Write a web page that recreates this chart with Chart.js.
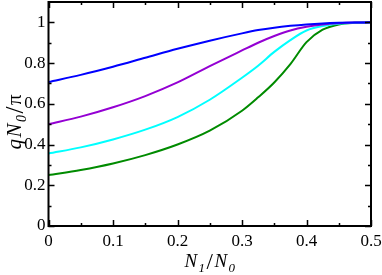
<!DOCTYPE html>
<html lang="en">
<head>
  <meta charset="UTF-8">
  <title>qN0/pi vs N1/N0</title>
  <script src="https://cdn.jsdelivr.net/npm/chart.js"></script>
  <style>
    body { margin: 0; background: #ffffff; }
    #wrap { width: 382px; height: 275px; }
  </style>
</head>
<body>
  <div id="wrap"><canvas id="qChart"></canvas></div>

  <script>
    // N1/N0 sample positions
    const ratio = [0, 0.05, 0.1, 0.15, 0.2, 0.25, 0.3, 0.325, 0.35, 0.375, 0.4, 0.425, 0.45, 0.475, 0.5];

    // qN0/pi
    const blueVals   = [0.707, 0.742, 0.782, 0.826, 0.870, 0.910, 0.946, 0.962, 0.974, 0.983, 0.990, 0.995, 0.998, 0.9995, 1];
    const violetVals = [0.500, 0.537, 0.583, 0.638, 0.705, 0.785, 0.862, 0.900, 0.933, 0.960, 0.978, 0.990, 0.996, 0.999, 1];
    const cyanVals   = [0.356, 0.386, 0.425, 0.473, 0.535, 0.620, 0.728, 0.787, 0.855, 0.913, 0.960, 0.982, 0.993, 0.998, 1];
    const greenVals  = [0.250, 0.275, 0.307, 0.348, 0.400, 0.468, 0.566, 0.632, 0.705, 0.795, 0.903, 0.964, 0.990, 0.998, 1];

    // tick marks
    const xMajor = [0, 0.1, 0.2, 0.3, 0.4, 0.5];
    const xMinor = [0.05, 0.15, 0.25, 0.35, 0.45];
    const yMajor = [0, 0.2, 0.4, 0.6, 0.8, 1];
    const yMinor = [0.1, 0.3, 0.5, 0.7, 0.9];

    const toPoints = vals => vals.map((v, i) => ({ x: ratio[i], y: v }));

    const serif = '"Liberation Serif", "Times New Roman", serif';

    // box with inward ticks on all four sides, plus axis titles
    const framePlugin = {
      id: 'frame',
      afterDraw(chart) {
        const { ctx, chartArea: a, scales: { x, y } } = chart;
        ctx.save();
        ctx.strokeStyle = '#000';
        ctx.lineWidth = 2;
        ctx.strokeRect(a.left, a.top, a.right - a.left, a.bottom - a.top);

        ctx.lineWidth = 1.5;
        ctx.beginPath();
        const tickX = (v, len) => {
          const px = Math.round(x.getPixelForValue(v)) + 0.5;
          ctx.moveTo(px, a.bottom); ctx.lineTo(px, a.bottom - len);
          ctx.moveTo(px, a.top); ctx.lineTo(px, a.top + len);
        };
        const tickY = (v, len) => {
          const py = Math.round(y.getPixelForValue(v)) + 0.5;
          ctx.moveTo(a.left, py); ctx.lineTo(a.left + len, py);
          ctx.moveTo(a.right, py); ctx.lineTo(a.right - len, py);
        };
        xMajor.forEach(v => tickX(v, 6));
        xMinor.forEach(v => tickX(v, 3));
        yMajor.forEach(v => tickY(v, 6));
        yMinor.forEach(v => tickY(v, 3));
        ctx.stroke();

        ctx.fillStyle = '#000';
        ctx.textBaseline = 'alphabetic';

        const drawParts = (parts, cx, base, gap) => {
          let w = 0;
          parts.forEach(p => { ctx.font = p.f; w += ctx.measureText(p.t).width + gap; });
          let px = cx - (w - gap) / 2;
          parts.forEach(p => {
            ctx.font = p.f;
            ctx.fillText(p.t, px, base + p.dy);
            px += ctx.measureText(p.t).width + gap;
          });
        };

        // x title: N1/N0
        const xParts = [
          { t: 'N', f: 'italic 19px ' + serif, dy: 0 },
          { t: '1', f: 'italic 13px ' + serif, dy: 5 },
          { t: '/', f: '23px ' + serif, dy: 2 },
          { t: 'N', f: 'italic 19px ' + serif, dy: 0 },
          { t: '0', f: 'italic 13px ' + serif, dy: 5 }
        ];
        drawParts(xParts, (a.left + a.right) / 2, 267, 1.5);

        // y title: qN0/pi, rotated
        const yParts = [
          { t: 'q', f: 'italic 21px ' + serif, dy: 0 },
          { t: 'N', f: 'italic 21px ' + serif, dy: 0 },
          { t: '0', f: 'italic 14px ' + serif, dy: 5 },
          { t: '/', f: '25px ' + serif, dy: 2 },
          { t: 'π', f: '21px ' + serif, dy: 0 }
        ];
        ctx.translate(21, 122);
        ctx.rotate(-Math.PI / 2);
        drawParts(yParts, 0, 0, 1.5);
        ctx.restore();
      }
    };

    const line = (vals, color) => ({
      data: toPoints(vals),
      borderColor: color,
      borderWidth: 2,
      pointRadius: 0,
      fill: false,
      cubicInterpolationMode: 'monotone'
    });

    new Chart(document.getElementById('qChart'), {
      type: 'line',
      data: {
        datasets: [
          line(blueVals, '#0000ff'),
          line(violetVals, '#9400d3'),
          line(cyanVals, '#00ffff'),
          line(greenVals, '#008b00')
        ]
      },
      options: {
        responsive: true,
        maintainAspectRatio: false,
        animation: false,
        layout: { padding: { left: 0, right: 11, top: 2, bottom: 0 } },
        plugins: { legend: { display: false }, tooltip: { enabled: false } },
        scales: {
          x: {
            type: 'linear',
            min: 0,
            max: 0.5,
            grid: { display: false, drawTicks: false },
            border: { display: false },
            afterFit: s => { s.height = 49; s.paddingLeft = 0; s.paddingRight = 0; },
            afterBuildTicks: s => { s.ticks = xMajor.map(v => ({ value: v })); },
            ticks: {
              color: '#000',
              padding: 5,
              maxRotation: 0,
              font: { family: serif, size: 17 },
              callback: v => String(v)
            }
          },
          y: {
            min: 0,
            max: 1.1,
            grid: { display: false, drawTicks: false },
            border: { display: false },
            afterFit: s => { s.width = 48.5; s.paddingTop = 0; s.paddingBottom = 0; },
            afterBuildTicks: s => { s.ticks = yMajor.map(v => ({ value: v })); },
            ticks: {
              color: '#000',
              padding: 3,
              font: { family: serif, size: 17 },
              callback: v => String(v)
            }
          }
        }
      },
      plugins: [framePlugin]
    });
  </script>
</body>
</html>
